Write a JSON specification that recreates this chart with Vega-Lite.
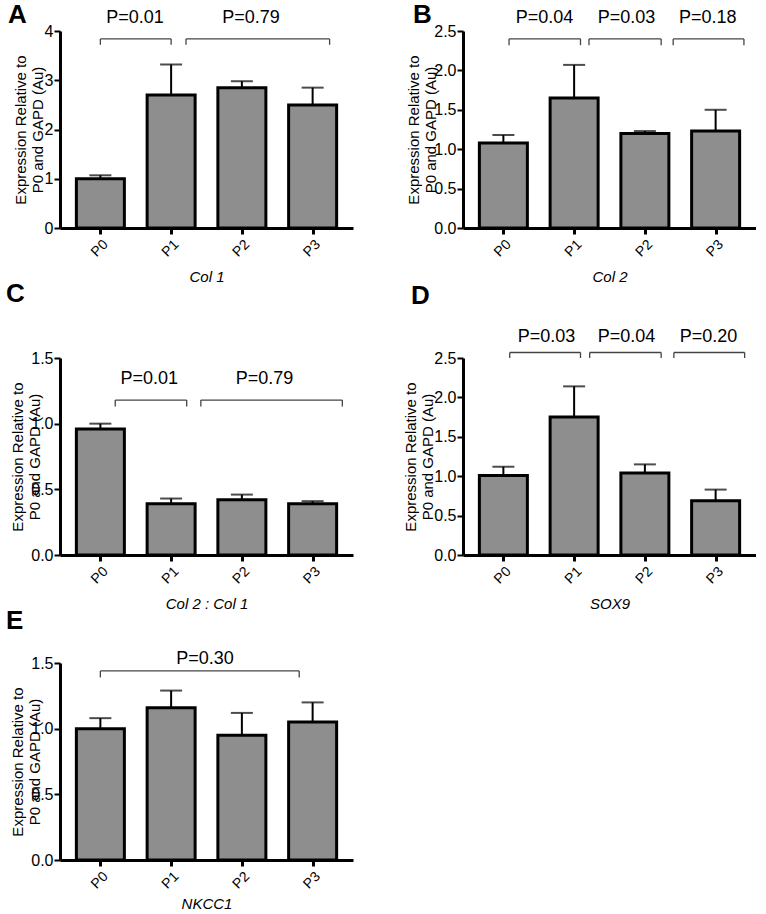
{
  "$schema": "https://vega.github.io/schema/vega-lite/v6.json",
  "padding": {"left": 6, "top": 2, "right": 0, "bottom": 0},
  "background": "white",
  "datasets": {
    "bars": [
      {"panel": "A", "stage": "P0", "idx": 0, "mean": 1.00, "upper": 1.07},
      {"panel": "A", "stage": "P1", "idx": 1, "mean": 2.70, "upper": 3.32},
      {"panel": "A", "stage": "P2", "idx": 2, "mean": 2.85, "upper": 2.98},
      {"panel": "A", "stage": "P3", "idx": 3, "mean": 2.50, "upper": 2.85},
      {"panel": "B", "stage": "P0", "idx": 0, "mean": 1.08, "upper": 1.18},
      {"panel": "B", "stage": "P1", "idx": 1, "mean": 1.65, "upper": 2.07},
      {"panel": "B", "stage": "P2", "idx": 2, "mean": 1.20, "upper": 1.23},
      {"panel": "B", "stage": "P3", "idx": 3, "mean": 1.23, "upper": 1.50},
      {"panel": "C", "stage": "P0", "idx": 0, "mean": 0.96, "upper": 1.00},
      {"panel": "C", "stage": "P1", "idx": 1, "mean": 0.39, "upper": 0.43},
      {"panel": "C", "stage": "P2", "idx": 2, "mean": 0.42, "upper": 0.46},
      {"panel": "C", "stage": "P3", "idx": 3, "mean": 0.39, "upper": 0.41},
      {"panel": "D", "stage": "P0", "idx": 0, "mean": 1.01, "upper": 1.12},
      {"panel": "D", "stage": "P1", "idx": 1, "mean": 1.75, "upper": 2.14},
      {"panel": "D", "stage": "P2", "idx": 2, "mean": 1.04, "upper": 1.15},
      {"panel": "D", "stage": "P3", "idx": 3, "mean": 0.69, "upper": 0.83},
      {"panel": "E", "stage": "P0", "idx": 0, "mean": 1.00, "upper": 1.08},
      {"panel": "E", "stage": "P1", "idx": 1, "mean": 1.16, "upper": 1.29},
      {"panel": "E", "stage": "P2", "idx": 2, "mean": 0.95, "upper": 1.12},
      {"panel": "E", "stage": "P3", "idx": 3, "mean": 1.05, "upper": 1.20}
    ],
    "brackets": [
      {"panel": "A", "from": 0.0, "to": 1.0, "y": 3.84, "ylow": 3.72},
      {"panel": "A", "from": 1.21, "to": 3.24, "y": 3.84, "ylow": 3.72},
      {"panel": "B", "from": 0.08, "to": 1.09, "y": 2.40, "ylow": 2.32},
      {"panel": "B", "from": 1.21, "to": 2.23, "y": 2.40, "ylow": 2.32},
      {"panel": "B", "from": 2.40, "to": 3.40, "y": 2.40, "ylow": 2.32},
      {"panel": "C", "from": 0.21, "to": 1.22, "y": 1.18, "ylow": 1.13},
      {"panel": "C", "from": 1.42, "to": 3.42, "y": 1.18, "ylow": 1.13},
      {"panel": "D", "from": 0.09, "to": 1.09, "y": 2.57, "ylow": 2.50},
      {"panel": "D", "from": 1.22, "to": 2.23, "y": 2.57, "ylow": 2.50},
      {"panel": "D", "from": 2.41, "to": 3.41, "y": 2.57, "ylow": 2.50},
      {"panel": "E", "from": 0.0, "to": 2.81, "y": 1.44, "ylow": 1.39}
    ],
    "pvals": [
      {"panel": "A", "x": 0.49, "y": 4.26, "label": "P=0.01"},
      {"panel": "A", "x": 2.13, "y": 4.26, "label": "P=0.79"},
      {"panel": "B", "x": 0.58, "y": 2.66, "label": "P=0.04"},
      {"panel": "B", "x": 1.74, "y": 2.66, "label": "P=0.03"},
      {"panel": "B", "x": 2.89, "y": 2.66, "label": "P=0.18"},
      {"panel": "C", "x": 0.69, "y": 1.34, "label": "P=0.01"},
      {"panel": "C", "x": 2.32, "y": 1.34, "label": "P=0.79"},
      {"panel": "D", "x": 0.61, "y": 2.77, "label": "P=0.03"},
      {"panel": "D", "x": 1.74, "y": 2.77, "label": "P=0.04"},
      {"panel": "D", "x": 2.90, "y": 2.77, "label": "P=0.20"},
      {"panel": "E", "x": 1.48, "y": 1.53, "label": "P=0.30"}
    ]
  },
  "columns": 2,
  "spacing": {"row": -4, "column": 50},
  "concat": [
    {
      "title": {"text": "A", "anchor": "start", "frame": "group", "fontSize": 26, "fontWeight": "bold", "dx": -52, "offset": -19},
      "width": 293, "height": 197,
      "layer": [
        {"data": {"name": "bars"}, "transform": [{"filter": "datum.panel === 'A'"}],
         "layer": [
           {"mark": {"type": "bar", "width": 48, "fill": "#8e8e8e", "stroke": "black", "strokeWidth": 3},
            "encoding": {
              "x": {"field": "idx", "type": "quantitative", "scale": {"domain": [-0.5, 3.5], "nice": false, "zero": false}, "axis": {"title": "Col 1", "values": [0, 1, 2, 3], "labelExpr": "'P' + datum.value"}},
              "y": {"field": "mean", "type": "quantitative", "scale": {"domain": [0, 4], "nice": false}, "axis": {"title": ["Expression Relative to", "P0 and GAPD (Au)"], "values": [0, 1, 2, 3, 4], "format": "d", "titlePadding": -1}}
            }},
           {"mark": {"type": "rule", "strokeWidth": 2, "color": "black"},
            "encoding": {
              "x": {"field": "idx", "type": "quantitative", "scale": {"domain": [-0.5, 3.5], "nice": false, "zero": false}, "axis": {"title": "Col 1", "values": [0, 1, 2, 3], "labelExpr": "'P' + datum.value"}},
              "y": {"field": "mean", "type": "quantitative", "scale": {"domain": [0, 4], "nice": false}, "axis": {"title": ["Expression Relative to", "P0 and GAPD (Au)"], "values": [0, 1, 2, 3, 4], "format": "d", "titlePadding": -1}},
              "y2": {"field": "upper"}}},
           {"mark": {"type": "tick", "orient": "horizontal", "size": 22, "thickness": 2, "color": "black"},
            "encoding": {
              "x": {"field": "idx", "type": "quantitative", "scale": {"domain": [-0.5, 3.5], "nice": false, "zero": false}, "axis": {"title": "Col 1", "values": [0, 1, 2, 3], "labelExpr": "'P' + datum.value"}},
              "y": {"field": "upper", "type": "quantitative", "scale": {"domain": [0, 4], "nice": false}, "axis": {"title": ["Expression Relative to", "P0 and GAPD (Au)"], "values": [0, 1, 2, 3, 4], "format": "d", "titlePadding": -1}}}}
         ]},
        {"data": {"name": "brackets"}, "transform": [{"filter": "datum.panel === 'A'"}],
         "layer": [
           {"mark": {"type": "rule", "color": "#444", "strokeWidth": 1.3},
            "encoding": {
              "x": {"field": "from", "type": "quantitative", "scale": {"domain": [-0.5, 3.5], "nice": false, "zero": false}, "axis": {"title": "Col 1", "values": [0, 1, 2, 3], "labelExpr": "'P' + datum.value"}},
              "x2": {"field": "to"},
              "y": {"field": "y", "type": "quantitative", "scale": {"domain": [0, 4], "nice": false}, "axis": {"title": ["Expression Relative to", "P0 and GAPD (Au)"], "values": [0, 1, 2, 3, 4], "format": "d", "titlePadding": -1}}}},
           {"mark": {"type": "rule", "color": "#444", "strokeWidth": 1.3},
            "encoding": {
              "x": {"field": "from", "type": "quantitative", "scale": {"domain": [-0.5, 3.5], "nice": false, "zero": false}, "axis": {"title": "Col 1", "values": [0, 1, 2, 3], "labelExpr": "'P' + datum.value"}},
              "y": {"field": "y", "type": "quantitative", "scale": {"domain": [0, 4], "nice": false}, "axis": {"title": ["Expression Relative to", "P0 and GAPD (Au)"], "values": [0, 1, 2, 3, 4], "format": "d", "titlePadding": -1}},
              "y2": {"field": "ylow"}}},
           {"mark": {"type": "rule", "color": "#444", "strokeWidth": 1.3},
            "encoding": {
              "x": {"field": "to", "type": "quantitative", "scale": {"domain": [-0.5, 3.5], "nice": false, "zero": false}, "axis": {"title": "Col 1", "values": [0, 1, 2, 3], "labelExpr": "'P' + datum.value"}},
              "y": {"field": "y", "type": "quantitative", "scale": {"domain": [0, 4], "nice": false}, "axis": {"title": ["Expression Relative to", "P0 and GAPD (Au)"], "values": [0, 1, 2, 3, 4], "format": "d", "titlePadding": -1}},
              "y2": {"field": "ylow"}}}
         ]},
        {"data": {"name": "pvals"}, "transform": [{"filter": "datum.panel === 'A'"}],
         "mark": {"type": "text", "fontSize": 18, "baseline": "middle"},
         "encoding": {
           "x": {"field": "x", "type": "quantitative", "scale": {"domain": [-0.5, 3.5], "nice": false, "zero": false}, "axis": {"title": "Col 1", "values": [0, 1, 2, 3], "labelExpr": "'P' + datum.value"}},
           "y": {"field": "y", "type": "quantitative", "scale": {"domain": [0, 4], "nice": false}, "axis": {"title": ["Expression Relative to", "P0 and GAPD (Au)"], "values": [0, 1, 2, 3, 4], "format": "d", "titlePadding": -1}},
           "text": {"field": "label"}}}
      ]
    },
    {
      "title": {"text": "B", "anchor": "start", "frame": "group", "fontSize": 26, "fontWeight": "bold", "dx": -50, "offset": -19},
      "width": 293, "height": 197,
      "layer": [
        {"data": {"name": "bars"}, "transform": [{"filter": "datum.panel === 'B'"}],
         "layer": [
           {"mark": {"type": "bar", "width": 48, "fill": "#8e8e8e", "stroke": "black", "strokeWidth": 3},
            "encoding": {
              "x": {"field": "idx", "type": "quantitative", "scale": {"domain": [-0.5, 3.5], "nice": false, "zero": false}, "axis": {"title": "Col 2", "values": [0, 1, 2, 3], "labelExpr": "'P' + datum.value"}},
              "y": {"field": "mean", "type": "quantitative", "scale": {"domain": [0, 2.5], "nice": false}, "axis": {"title": ["Expression Relative to", "P0 and GAPD (Au)"], "values": [0, 0.5, 1, 1.5, 2, 2.5], "format": ".1f", "titlePadding": -5}}
            }},
           {"mark": {"type": "rule", "strokeWidth": 2, "color": "black"},
            "encoding": {
              "x": {"field": "idx", "type": "quantitative", "scale": {"domain": [-0.5, 3.5], "nice": false, "zero": false}, "axis": {"title": "Col 2", "values": [0, 1, 2, 3], "labelExpr": "'P' + datum.value"}},
              "y": {"field": "mean", "type": "quantitative", "scale": {"domain": [0, 2.5], "nice": false}, "axis": {"title": ["Expression Relative to", "P0 and GAPD (Au)"], "values": [0, 0.5, 1, 1.5, 2, 2.5], "format": ".1f", "titlePadding": -5}},
              "y2": {"field": "upper"}}},
           {"mark": {"type": "tick", "orient": "horizontal", "size": 22, "thickness": 2, "color": "black"},
            "encoding": {
              "x": {"field": "idx", "type": "quantitative", "scale": {"domain": [-0.5, 3.5], "nice": false, "zero": false}, "axis": {"title": "Col 2", "values": [0, 1, 2, 3], "labelExpr": "'P' + datum.value"}},
              "y": {"field": "upper", "type": "quantitative", "scale": {"domain": [0, 2.5], "nice": false}, "axis": {"title": ["Expression Relative to", "P0 and GAPD (Au)"], "values": [0, 0.5, 1, 1.5, 2, 2.5], "format": ".1f", "titlePadding": -5}}}}
         ]},
        {"data": {"name": "brackets"}, "transform": [{"filter": "datum.panel === 'B'"}],
         "layer": [
           {"mark": {"type": "rule", "color": "#444", "strokeWidth": 1.3},
            "encoding": {
              "x": {"field": "from", "type": "quantitative", "scale": {"domain": [-0.5, 3.5], "nice": false, "zero": false}, "axis": {"title": "Col 2", "values": [0, 1, 2, 3], "labelExpr": "'P' + datum.value"}},
              "x2": {"field": "to"},
              "y": {"field": "y", "type": "quantitative", "scale": {"domain": [0, 2.5], "nice": false}, "axis": {"title": ["Expression Relative to", "P0 and GAPD (Au)"], "values": [0, 0.5, 1, 1.5, 2, 2.5], "format": ".1f", "titlePadding": -5}}}},
           {"mark": {"type": "rule", "color": "#444", "strokeWidth": 1.3},
            "encoding": {
              "x": {"field": "from", "type": "quantitative", "scale": {"domain": [-0.5, 3.5], "nice": false, "zero": false}, "axis": {"title": "Col 2", "values": [0, 1, 2, 3], "labelExpr": "'P' + datum.value"}},
              "y": {"field": "y", "type": "quantitative", "scale": {"domain": [0, 2.5], "nice": false}, "axis": {"title": ["Expression Relative to", "P0 and GAPD (Au)"], "values": [0, 0.5, 1, 1.5, 2, 2.5], "format": ".1f", "titlePadding": -5}},
              "y2": {"field": "ylow"}}},
           {"mark": {"type": "rule", "color": "#444", "strokeWidth": 1.3},
            "encoding": {
              "x": {"field": "to", "type": "quantitative", "scale": {"domain": [-0.5, 3.5], "nice": false, "zero": false}, "axis": {"title": "Col 2", "values": [0, 1, 2, 3], "labelExpr": "'P' + datum.value"}},
              "y": {"field": "y", "type": "quantitative", "scale": {"domain": [0, 2.5], "nice": false}, "axis": {"title": ["Expression Relative to", "P0 and GAPD (Au)"], "values": [0, 0.5, 1, 1.5, 2, 2.5], "format": ".1f", "titlePadding": -5}},
              "y2": {"field": "ylow"}}}
         ]},
        {"data": {"name": "pvals"}, "transform": [{"filter": "datum.panel === 'B'"}],
         "mark": {"type": "text", "fontSize": 18, "baseline": "middle"},
         "encoding": {
           "x": {"field": "x", "type": "quantitative", "scale": {"domain": [-0.5, 3.5], "nice": false, "zero": false}, "axis": {"title": "Col 2", "values": [0, 1, 2, 3], "labelExpr": "'P' + datum.value"}},
           "y": {"field": "y", "type": "quantitative", "scale": {"domain": [0, 2.5], "nice": false}, "axis": {"title": ["Expression Relative to", "P0 and GAPD (Au)"], "values": [0, 0.5, 1, 1.5, 2, 2.5], "format": ".1f", "titlePadding": -5}},
           "text": {"field": "label"}}}
      ]
    },
    {
      "title": {"text": "C", "anchor": "start", "frame": "group", "fontSize": 26, "fontWeight": "bold", "dx": -54, "offset": 43},
      "width": 293, "height": 197,
      "layer": [
        {"data": {"name": "bars"}, "transform": [{"filter": "datum.panel === 'C'"}],
         "layer": [
           {"mark": {"type": "bar", "width": 48, "fill": "#8e8e8e", "stroke": "black", "strokeWidth": 3},
            "encoding": {
              "x": {"field": "idx", "type": "quantitative", "scale": {"domain": [-0.5, 3.5], "nice": false, "zero": false}, "axis": {"title": "Col 2 : Col 1", "values": [0, 1, 2, 3], "labelExpr": "'P' + datum.value"}},
              "y": {"field": "mean", "type": "quantitative", "scale": {"domain": [0, 1.5], "nice": false}, "axis": {"title": ["Expression Relative to", "P0 and GAPD (Au)"], "values": [0, 0.5, 1, 1.5], "format": ".1f", "titlePadding": -12}}
            }},
           {"mark": {"type": "rule", "strokeWidth": 2, "color": "black"},
            "encoding": {
              "x": {"field": "idx", "type": "quantitative", "scale": {"domain": [-0.5, 3.5], "nice": false, "zero": false}, "axis": {"title": "Col 2 : Col 1", "values": [0, 1, 2, 3], "labelExpr": "'P' + datum.value"}},
              "y": {"field": "mean", "type": "quantitative", "scale": {"domain": [0, 1.5], "nice": false}, "axis": {"title": ["Expression Relative to", "P0 and GAPD (Au)"], "values": [0, 0.5, 1, 1.5], "format": ".1f", "titlePadding": -12}},
              "y2": {"field": "upper"}}},
           {"mark": {"type": "tick", "orient": "horizontal", "size": 22, "thickness": 2, "color": "black"},
            "encoding": {
              "x": {"field": "idx", "type": "quantitative", "scale": {"domain": [-0.5, 3.5], "nice": false, "zero": false}, "axis": {"title": "Col 2 : Col 1", "values": [0, 1, 2, 3], "labelExpr": "'P' + datum.value"}},
              "y": {"field": "upper", "type": "quantitative", "scale": {"domain": [0, 1.5], "nice": false}, "axis": {"title": ["Expression Relative to", "P0 and GAPD (Au)"], "values": [0, 0.5, 1, 1.5], "format": ".1f", "titlePadding": -12}}}}
         ]},
        {"data": {"name": "brackets"}, "transform": [{"filter": "datum.panel === 'C'"}],
         "layer": [
           {"mark": {"type": "rule", "color": "#444", "strokeWidth": 1.3},
            "encoding": {
              "x": {"field": "from", "type": "quantitative", "scale": {"domain": [-0.5, 3.5], "nice": false, "zero": false}, "axis": {"title": "Col 2 : Col 1", "values": [0, 1, 2, 3], "labelExpr": "'P' + datum.value"}},
              "x2": {"field": "to"},
              "y": {"field": "y", "type": "quantitative", "scale": {"domain": [0, 1.5], "nice": false}, "axis": {"title": ["Expression Relative to", "P0 and GAPD (Au)"], "values": [0, 0.5, 1, 1.5], "format": ".1f", "titlePadding": -12}}}},
           {"mark": {"type": "rule", "color": "#444", "strokeWidth": 1.3},
            "encoding": {
              "x": {"field": "from", "type": "quantitative", "scale": {"domain": [-0.5, 3.5], "nice": false, "zero": false}, "axis": {"title": "Col 2 : Col 1", "values": [0, 1, 2, 3], "labelExpr": "'P' + datum.value"}},
              "y": {"field": "y", "type": "quantitative", "scale": {"domain": [0, 1.5], "nice": false}, "axis": {"title": ["Expression Relative to", "P0 and GAPD (Au)"], "values": [0, 0.5, 1, 1.5], "format": ".1f", "titlePadding": -12}},
              "y2": {"field": "ylow"}}},
           {"mark": {"type": "rule", "color": "#444", "strokeWidth": 1.3},
            "encoding": {
              "x": {"field": "to", "type": "quantitative", "scale": {"domain": [-0.5, 3.5], "nice": false, "zero": false}, "axis": {"title": "Col 2 : Col 1", "values": [0, 1, 2, 3], "labelExpr": "'P' + datum.value"}},
              "y": {"field": "y", "type": "quantitative", "scale": {"domain": [0, 1.5], "nice": false}, "axis": {"title": ["Expression Relative to", "P0 and GAPD (Au)"], "values": [0, 0.5, 1, 1.5], "format": ".1f", "titlePadding": -12}},
              "y2": {"field": "ylow"}}}
         ]},
        {"data": {"name": "pvals"}, "transform": [{"filter": "datum.panel === 'C'"}],
         "mark": {"type": "text", "fontSize": 18, "baseline": "middle"},
         "encoding": {
           "x": {"field": "x", "type": "quantitative", "scale": {"domain": [-0.5, 3.5], "nice": false, "zero": false}, "axis": {"title": "Col 2 : Col 1", "values": [0, 1, 2, 3], "labelExpr": "'P' + datum.value"}},
           "y": {"field": "y", "type": "quantitative", "scale": {"domain": [0, 1.5], "nice": false}, "axis": {"title": ["Expression Relative to", "P0 and GAPD (Au)"], "values": [0, 0.5, 1, 1.5], "format": ".1f", "titlePadding": -12}},
           "text": {"field": "label"}}}
      ]
    },
    {
      "title": {"text": "D", "anchor": "start", "frame": "group", "fontSize": 26, "fontWeight": "bold", "dx": -52, "offset": 19},
      "width": 293, "height": 197,
      "layer": [
        {"data": {"name": "bars"}, "transform": [{"filter": "datum.panel === 'D'"}],
         "layer": [
           {"mark": {"type": "bar", "width": 48, "fill": "#8e8e8e", "stroke": "black", "strokeWidth": 3},
            "encoding": {
              "x": {"field": "idx", "type": "quantitative", "scale": {"domain": [-0.5, 3.5], "nice": false, "zero": false}, "axis": {"title": "SOX9", "values": [0, 1, 2, 3], "labelExpr": "'P' + datum.value"}},
              "y": {"field": "mean", "type": "quantitative", "scale": {"domain": [0, 2.5], "nice": false}, "axis": {"title": ["Expression Relative to", "P0 and GAPD (Au)"], "values": [0, 0.5, 1, 1.5, 2, 2.5], "format": ".1f", "titlePadding": -2}}
            }},
           {"mark": {"type": "rule", "strokeWidth": 2, "color": "black"},
            "encoding": {
              "x": {"field": "idx", "type": "quantitative", "scale": {"domain": [-0.5, 3.5], "nice": false, "zero": false}, "axis": {"title": "SOX9", "values": [0, 1, 2, 3], "labelExpr": "'P' + datum.value"}},
              "y": {"field": "mean", "type": "quantitative", "scale": {"domain": [0, 2.5], "nice": false}, "axis": {"title": ["Expression Relative to", "P0 and GAPD (Au)"], "values": [0, 0.5, 1, 1.5, 2, 2.5], "format": ".1f", "titlePadding": -2}},
              "y2": {"field": "upper"}}},
           {"mark": {"type": "tick", "orient": "horizontal", "size": 22, "thickness": 2, "color": "black"},
            "encoding": {
              "x": {"field": "idx", "type": "quantitative", "scale": {"domain": [-0.5, 3.5], "nice": false, "zero": false}, "axis": {"title": "SOX9", "values": [0, 1, 2, 3], "labelExpr": "'P' + datum.value"}},
              "y": {"field": "upper", "type": "quantitative", "scale": {"domain": [0, 2.5], "nice": false}, "axis": {"title": ["Expression Relative to", "P0 and GAPD (Au)"], "values": [0, 0.5, 1, 1.5, 2, 2.5], "format": ".1f", "titlePadding": -2}}}}
         ]},
        {"data": {"name": "brackets"}, "transform": [{"filter": "datum.panel === 'D'"}],
         "layer": [
           {"mark": {"type": "rule", "color": "#444", "strokeWidth": 1.3},
            "encoding": {
              "x": {"field": "from", "type": "quantitative", "scale": {"domain": [-0.5, 3.5], "nice": false, "zero": false}, "axis": {"title": "SOX9", "values": [0, 1, 2, 3], "labelExpr": "'P' + datum.value"}},
              "x2": {"field": "to"},
              "y": {"field": "y", "type": "quantitative", "scale": {"domain": [0, 2.5], "nice": false}, "axis": {"title": ["Expression Relative to", "P0 and GAPD (Au)"], "values": [0, 0.5, 1, 1.5, 2, 2.5], "format": ".1f", "titlePadding": -2}}}},
           {"mark": {"type": "rule", "color": "#444", "strokeWidth": 1.3},
            "encoding": {
              "x": {"field": "from", "type": "quantitative", "scale": {"domain": [-0.5, 3.5], "nice": false, "zero": false}, "axis": {"title": "SOX9", "values": [0, 1, 2, 3], "labelExpr": "'P' + datum.value"}},
              "y": {"field": "y", "type": "quantitative", "scale": {"domain": [0, 2.5], "nice": false}, "axis": {"title": ["Expression Relative to", "P0 and GAPD (Au)"], "values": [0, 0.5, 1, 1.5, 2, 2.5], "format": ".1f", "titlePadding": -2}},
              "y2": {"field": "ylow"}}},
           {"mark": {"type": "rule", "color": "#444", "strokeWidth": 1.3},
            "encoding": {
              "x": {"field": "to", "type": "quantitative", "scale": {"domain": [-0.5, 3.5], "nice": false, "zero": false}, "axis": {"title": "SOX9", "values": [0, 1, 2, 3], "labelExpr": "'P' + datum.value"}},
              "y": {"field": "y", "type": "quantitative", "scale": {"domain": [0, 2.5], "nice": false}, "axis": {"title": ["Expression Relative to", "P0 and GAPD (Au)"], "values": [0, 0.5, 1, 1.5, 2, 2.5], "format": ".1f", "titlePadding": -2}},
              "y2": {"field": "ylow"}}}
         ]},
        {"data": {"name": "pvals"}, "transform": [{"filter": "datum.panel === 'D'"}],
         "mark": {"type": "text", "fontSize": 18, "baseline": "middle"},
         "encoding": {
           "x": {"field": "x", "type": "quantitative", "scale": {"domain": [-0.5, 3.5], "nice": false, "zero": false}, "axis": {"title": "SOX9", "values": [0, 1, 2, 3], "labelExpr": "'P' + datum.value"}},
           "y": {"field": "y", "type": "quantitative", "scale": {"domain": [0, 2.5], "nice": false}, "axis": {"title": ["Expression Relative to", "P0 and GAPD (Au)"], "values": [0, 0.5, 1, 1.5, 2, 2.5], "format": ".1f", "titlePadding": -2}},
           "text": {"field": "label"}}}
      ]
    },
    {
      "title": {"text": "E", "anchor": "start", "frame": "group", "fontSize": 26, "fontWeight": "bold", "dx": -54, "offset": 16},
      "width": 293, "height": 197,
      "layer": [
        {"data": {"name": "bars"}, "transform": [{"filter": "datum.panel === 'E'"}],
         "layer": [
           {"mark": {"type": "bar", "width": 48, "fill": "#8e8e8e", "stroke": "black", "strokeWidth": 3},
            "encoding": {
              "x": {"field": "idx", "type": "quantitative", "scale": {"domain": [-0.5, 3.5], "nice": false, "zero": false}, "axis": {"title": "NKCC1", "values": [0, 1, 2, 3], "labelExpr": "'P' + datum.value", "titlePadding": 5}},
              "y": {"field": "mean", "type": "quantitative", "scale": {"domain": [0, 1.5], "nice": false}, "axis": {"title": ["Expression Relative to", "P0 and GAPD (Au)"], "values": [0, 0.5, 1, 1.5], "format": ".1f", "titlePadding": -12}}
            }},
           {"mark": {"type": "rule", "strokeWidth": 2, "color": "black"},
            "encoding": {
              "x": {"field": "idx", "type": "quantitative", "scale": {"domain": [-0.5, 3.5], "nice": false, "zero": false}, "axis": {"title": "NKCC1", "values": [0, 1, 2, 3], "labelExpr": "'P' + datum.value", "titlePadding": 5}},
              "y": {"field": "mean", "type": "quantitative", "scale": {"domain": [0, 1.5], "nice": false}, "axis": {"title": ["Expression Relative to", "P0 and GAPD (Au)"], "values": [0, 0.5, 1, 1.5], "format": ".1f", "titlePadding": -12}},
              "y2": {"field": "upper"}}},
           {"mark": {"type": "tick", "orient": "horizontal", "size": 22, "thickness": 2, "color": "black"},
            "encoding": {
              "x": {"field": "idx", "type": "quantitative", "scale": {"domain": [-0.5, 3.5], "nice": false, "zero": false}, "axis": {"title": "NKCC1", "values": [0, 1, 2, 3], "labelExpr": "'P' + datum.value", "titlePadding": 5}},
              "y": {"field": "upper", "type": "quantitative", "scale": {"domain": [0, 1.5], "nice": false}, "axis": {"title": ["Expression Relative to", "P0 and GAPD (Au)"], "values": [0, 0.5, 1, 1.5], "format": ".1f", "titlePadding": -12}}}}
         ]},
        {"data": {"name": "brackets"}, "transform": [{"filter": "datum.panel === 'E'"}],
         "layer": [
           {"mark": {"type": "rule", "color": "#444", "strokeWidth": 1.3},
            "encoding": {
              "x": {"field": "from", "type": "quantitative", "scale": {"domain": [-0.5, 3.5], "nice": false, "zero": false}, "axis": {"title": "NKCC1", "values": [0, 1, 2, 3], "labelExpr": "'P' + datum.value", "titlePadding": 5}},
              "x2": {"field": "to"},
              "y": {"field": "y", "type": "quantitative", "scale": {"domain": [0, 1.5], "nice": false}, "axis": {"title": ["Expression Relative to", "P0 and GAPD (Au)"], "values": [0, 0.5, 1, 1.5], "format": ".1f", "titlePadding": -12}}}},
           {"mark": {"type": "rule", "color": "#444", "strokeWidth": 1.3},
            "encoding": {
              "x": {"field": "from", "type": "quantitative", "scale": {"domain": [-0.5, 3.5], "nice": false, "zero": false}, "axis": {"title": "NKCC1", "values": [0, 1, 2, 3], "labelExpr": "'P' + datum.value", "titlePadding": 5}},
              "y": {"field": "y", "type": "quantitative", "scale": {"domain": [0, 1.5], "nice": false}, "axis": {"title": ["Expression Relative to", "P0 and GAPD (Au)"], "values": [0, 0.5, 1, 1.5], "format": ".1f", "titlePadding": -12}},
              "y2": {"field": "ylow"}}},
           {"mark": {"type": "rule", "color": "#444", "strokeWidth": 1.3},
            "encoding": {
              "x": {"field": "to", "type": "quantitative", "scale": {"domain": [-0.5, 3.5], "nice": false, "zero": false}, "axis": {"title": "NKCC1", "values": [0, 1, 2, 3], "labelExpr": "'P' + datum.value", "titlePadding": 5}},
              "y": {"field": "y", "type": "quantitative", "scale": {"domain": [0, 1.5], "nice": false}, "axis": {"title": ["Expression Relative to", "P0 and GAPD (Au)"], "values": [0, 0.5, 1, 1.5], "format": ".1f", "titlePadding": -12}},
              "y2": {"field": "ylow"}}}
         ]},
        {"data": {"name": "pvals"}, "transform": [{"filter": "datum.panel === 'E'"}],
         "mark": {"type": "text", "fontSize": 18, "baseline": "middle"},
         "encoding": {
           "x": {"field": "x", "type": "quantitative", "scale": {"domain": [-0.5, 3.5], "nice": false, "zero": false}, "axis": {"title": "NKCC1", "values": [0, 1, 2, 3], "labelExpr": "'P' + datum.value", "titlePadding": 5}},
           "y": {"field": "y", "type": "quantitative", "scale": {"domain": [0, 1.5], "nice": false}, "axis": {"title": ["Expression Relative to", "P0 and GAPD (Au)"], "values": [0, 0.5, 1, 1.5], "format": ".1f", "titlePadding": -12}},
           "text": {"field": "label"}}}
      ]
    }
  ],
  "config": {
    "font": "Liberation Sans",
    "view": {"stroke": null},
    "title": {"font": "Liberation Sans", "color": "black"},
    "text": {"font": "Liberation Sans", "color": "black"},
    "axis": {"labelFont": "Liberation Sans", "titleFont": "Liberation Sans", "labelColor": "black", "titleColor": "black", "domainColor": "black", "tickColor": "black", "titleFontWeight": "normal", "labelFontSize": 14, "titleFontSize": 15, "grid": false, "domainWidth": 3},
    "axisX": {"labelAngle": -45, "tickWidth": 3, "tickSize": 6, "labelPadding": 3, "titlePadding": 10, "titleFontStyle": "italic"},
    "axisY": {"labelOverlap": false, "tickWidth": 2, "tickSize": 6, "labelPadding": 1, "labelFontSize": 16}
  }
}
